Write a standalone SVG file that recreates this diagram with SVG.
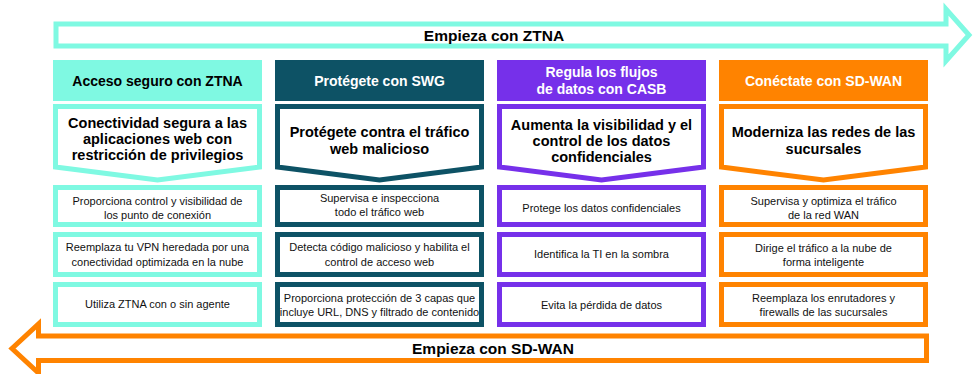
<svg xmlns="http://www.w3.org/2000/svg" width="979" height="374" viewBox="0 0 979 374">
<style>
.bg{fill:#ffffff}
.arrow{fill:#ffffff;stroke-width:5;stroke-linejoin:miter;stroke-miterlimit:10}
.mint{stroke:#7FF9E2}
.teal{stroke:#0D5265}
.purple{stroke:#7630EA}
.orange{stroke:#FF8300}
.fmint{fill:#7FF9E2}
.fteal{fill:#0D5265}
.fpurple{fill:#7630EA}
.forange{fill:#FF8300}
.box{fill:#ffffff;stroke-width:5}
.chev{fill:#ffffff;stroke-width:5;stroke-linejoin:miter}
.big{font-family:"Liberation Sans",Arial,sans-serif;font-weight:bold;font-size:15.5px;fill:#000;text-anchor:middle}
.hd{font-family:"Liberation Sans",Arial,sans-serif;font-weight:bold;font-size:14px;text-anchor:middle}
.hdk{fill:#000}
.hdw{fill:#fff}
.ch{font-family:"Liberation Sans",Arial,sans-serif;font-weight:bold;font-size:14.5px;fill:#000;text-anchor:middle}
.tx{font-family:"Liberation Sans",Arial,sans-serif;font-size:11px;fill:#111;text-anchor:middle}
</style>
<rect class="bg" x="0" y="0" width="979" height="374"/>

<g id="connectors">
  <g id="arrow-ztna">
    <polygon class="arrow mint" points="56,24 946,24 946,9 969,35 946,61 946,46 56,46"/>
    <text class="big" x="494" y="40.5">Empieza con ZTNA</text>
  </g>
  <g id="arrow-sdwan">
    <polygon class="arrow orange" points="926.5,336 38.5,336 38.5,324 12,348.5 38.5,373 38.5,360.5 926.5,360.5"/>
    <text class="big" x="493" y="354">Empieza con SD-WAN</text>
  </g>
</g>

<g id="col-ztna">
  <rect class="fmint" x="53" y="60" width="209" height="41"/>
  <text class="hd hdk" x="157.5" y="86">Acceso seguro con ZTNA</text>
  <polygon class="chev mint" points="55.5,106.5 259.5,106.5 259.5,167 157.5,180 55.5,167"/>
  <text class="ch" x="157.5" y="128">Conectividad segura a las</text>
  <text class="ch" x="157.5" y="144">aplicaciones web con</text>
  <text class="ch" x="157.5" y="160">restricción de privilegios</text>
  <rect class="box mint" x="55.5" y="187.5" width="204" height="37"/>
  <text class="tx" x="157.5" y="204.5">Proporciona control y visibilidad de</text>
  <text class="tx" x="157.5" y="218.5">los punto de conexión</text>
  <rect class="box mint" x="55.5" y="234.5" width="204" height="40"/>
  <text class="tx" x="157.5" y="250.5">Reemplaza tu VPN heredada por una</text>
  <text class="tx" x="157.5" y="265.5">conectividad optimizada en la nube</text>
  <rect class="box mint" x="55.5" y="284.5" width="204" height="40"/>
  <text class="tx" x="157.5" y="308">Utiliza ZTNA con o sin agente</text>
</g>

<g id="col-swg">
  <rect class="fteal" x="275" y="60" width="209" height="41"/>
  <text class="hd hdw" x="379.5" y="86">Protégete con SWG</text>
  <polygon class="chev teal" points="277.5,106.5 481.5,106.5 481.5,167 379.5,180 277.5,167"/>
  <text class="ch" x="379.5" y="137">Protégete contra el tráfico</text>
  <text class="ch" x="379.5" y="154">web malicioso</text>
  <rect class="box teal" x="277.5" y="187.5" width="204" height="37"/>
  <text class="tx" x="379.5" y="202">Supervisa e inspecciona</text>
  <text class="tx" x="379.5" y="216">todo el tráfico web</text>
  <rect class="box teal" x="277.5" y="234.5" width="204" height="40"/>
  <text class="tx" x="379.5" y="250.5">Detecta código malicioso y habilita el</text>
  <text class="tx" x="379.5" y="265.5">control de acceso web</text>
  <rect class="box teal" x="277.5" y="284.5" width="204" height="40"/>
  <text class="tx" x="379.5" y="301.5">Proporciona protección de 3 capas que</text>
  <text class="tx" x="379.5" y="315.5">incluye URL, DNS y filtrado de contenido</text>
</g>

<g id="col-casb">
  <rect class="fpurple" x="497" y="60" width="209" height="41"/>
  <text class="hd hdw" x="601.5" y="77">Regula los flujos</text>
  <text class="hd hdw" x="601.5" y="94">de datos con CASB</text>
  <polygon class="chev purple" points="499.5,106.5 703.5,106.5 703.5,167 601.5,180 499.5,167"/>
  <text class="ch" x="601.5" y="130">Aumenta la visibilidad y el</text>
  <text class="ch" x="601.5" y="146">control de los datos</text>
  <text class="ch" x="601.5" y="162">confidenciales</text>
  <rect class="box purple" x="499.5" y="187.5" width="204" height="37"/>
  <text class="tx" x="601.5" y="211.5">Protege los datos confidenciales</text>
  <rect class="box purple" x="499.5" y="234.5" width="204" height="40"/>
  <text class="tx" x="601.5" y="258">Identifica la TI en la sombra</text>
  <rect class="box purple" x="499.5" y="284.5" width="204" height="40"/>
  <text class="tx" x="601.5" y="308.5">Evita la pérdida de datos</text>
</g>

<g id="col-sdwan">
  <rect class="forange" x="719" y="60" width="209" height="41"/>
  <text class="hd hdw" x="823.5" y="86">Conéctate con SD-WAN</text>
  <polygon class="chev orange" points="721.5,106.5 925.5,106.5 925.5,167 823.5,180 721.5,167"/>
  <text class="ch" x="823.5" y="137">Moderniza las redes de las</text>
  <text class="ch" x="823.5" y="154">sucursales</text>
  <rect class="box orange" x="721.5" y="187.5" width="204" height="37"/>
  <text class="tx" x="823.5" y="204.5">Supervisa y optimiza el tráfico</text>
  <text class="tx" x="823.5" y="218.5">de la red WAN</text>
  <rect class="box orange" x="721.5" y="234.5" width="204" height="40"/>
  <text class="tx" x="823.5" y="251.5">Dirige el tráfico a la nube de</text>
  <text class="tx" x="823.5" y="265.5">forma inteligente</text>
  <rect class="box orange" x="721.5" y="284.5" width="204" height="40"/>
  <text class="tx" x="823.5" y="301.5">Reemplaza los enrutadores y</text>
  <text class="tx" x="823.5" y="316">firewalls de las sucursales</text>
</g>
</svg>
